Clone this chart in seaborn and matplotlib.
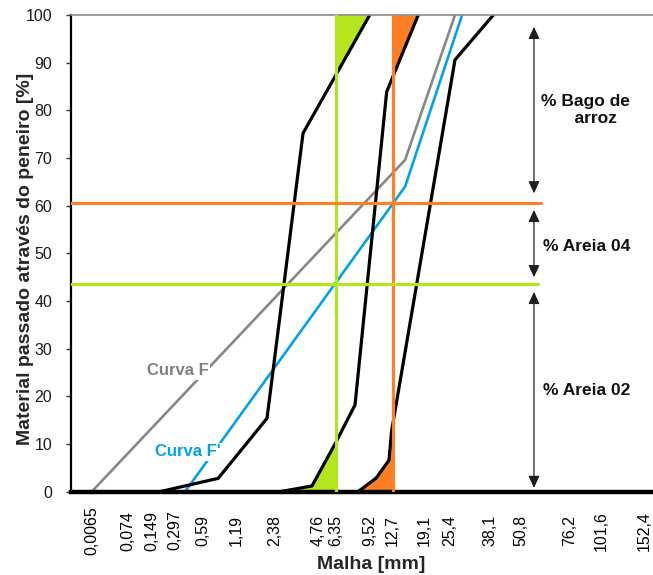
import numpy as np
import pandas as pd
import matplotlib
matplotlib.use("Agg")
import matplotlib.pyplot as plt
import seaborn as sns
from matplotlib.patches import Rectangle
from matplotlib.ticker import NullLocator

sns.set_style("white")
plt.rcParams["font.family"] = ["Liberation Sans", "DejaVu Sans"]

# Peneiros (abertura de malha, mm) e posição de cada um ao longo do eixo
malha_mm = [0.0065, 0.074, 0.149, 0.297, 0.59, 1.19, 2.38, 4.76, 6.35,
            9.52, 12.7, 19.1, 25.4, 38.1, 50.8, 76.2, 101.6, 152.4]
escala_pos = [20.7, 57, 80.7, 104, 132, 165.7, 204, 247, 265,
              298.7, 321.5, 353.7, 378.7, 418.7, 450, 498.7, 530, 573]
malha_labels = [f"{v:g}".replace(".", ",") for v in malha_mm]

# Curvas granulométricas dos materiais (malha em mm, % passado)
areia02_mm = [0.19, 0.81, 2.06, 3.74, 9.52]
areia02_pct = [0, 2.8, 15.4, 75.2, 100]
areia04_mm = [2.58, 4.32, 6.35, 7.98, 11.8, 17.6]
areia04_pct = [0, 1.2, 10.4, 18.2, 83.9, 100]
bago_mm = [8.27, 10.3, 12.15, 12.54, 26.8, 39.4]
bago_pct = [0, 2.8, 6.6, 12.6, 90.6, 100]

# Curvas de referência
curva_f_mm = [0.0065, 14.9, 26.8]
curva_f_pct = [0, 69.6, 100]
curva_f2_mm = [0.38, 14.9, 28.8]
curva_f2_pct = [0, 64.0, 100]

# Malhas de corte e percentagens resultantes
corte_verde_mm = 6.35
corte_laranja_mm = 12.7
nivel_verde = 43.5
nivel_laranja = 60.6

VERDE = "#b5e61d"
LARANJA = "#ff7f27"
AZUL = "#00a2e8"
CINZA = "#878787"

LOG_K = np.log10(malha_mm)
POS_K = np.asarray(escala_pos, float)


def _interp_ext(v, xp, fp):
    v = np.asarray(v, float)
    out = np.interp(v, xp, fp)
    out = np.where(v < xp[0], fp[0] + (v - xp[0]) * (fp[1] - fp[0]) / (xp[1] - xp[0]), out)
    out = np.where(v > xp[-1], fp[-1] + (v - xp[-1]) * (fp[-1] - fp[-2]) / (xp[-1] - xp[-2]), out)
    return out


def escala_fwd(x):
    x = np.asarray(x, float)
    lx = np.log10(np.where(x > 0, x, 1e-12))
    return _interp_ext(lx, LOG_K, POS_K)


def escala_inv(p):
    return 10 ** _interp_ext(p, POS_K, LOG_K)


fig = plt.figure(figsize=(6.53, 5.75), dpi=100)
ax = fig.add_axes([71 / 653, 0.1449, 582 / 653, 0.829])
ax.set_xscale("function", functions=(escala_fwd, escala_inv))
ax.set_xlim(escala_inv(0.0), escala_inv(582.0))
ax.set_ylim(0, 100)

df_mat = pd.concat([
    pd.DataFrame({"malha": areia02_mm, "passado": areia02_pct, "material": "Areia 02"}),
    pd.DataFrame({"malha": areia04_mm, "passado": areia04_pct, "material": "Areia 04"}),
    pd.DataFrame({"malha": bago_mm, "passado": bago_pct, "material": "Bago de arroz"}),
], ignore_index=True)

# Áreas sombreadas junto às malhas de corte
zonas = [
    (areia02_mm, areia02_pct, "topo", corte_verde_mm, VERDE, "dir"),
    (areia04_mm, areia04_pct, "base", corte_verde_mm, VERDE, "esq"),
    (areia04_mm, areia04_pct, "topo", corte_laranja_mm, LARANJA, "dir"),
    (bago_mm, bago_pct, "base", corte_laranja_mm, LARANJA, "esq"),
]
for xs, ys, lado, corte, cor, sentido in zonas:
    if lado == "topo":
        poly = ax.fill_between(xs, ys, 100, color=cor, lw=0, zorder=1)
    else:
        poly = ax.fill_between(xs, 0, ys, color=cor, lw=0, zorder=1)
    if sentido == "dir":
        clip = Rectangle((corte, 0), 1e4, 100, transform=ax.transData)
    else:
        clip = Rectangle((1e-4, 0), corte - 1e-4, 100, transform=ax.transData)
    poly.set_clip_path(clip)

sns.lineplot(x=curva_f_mm, y=curva_f_pct, color=CINZA, lw=1.9, sort=False,
             ax=ax, legend=False, zorder=2)
sns.lineplot(x=curva_f2_mm, y=curva_f2_pct, color=AZUL, lw=1.9, sort=False,
             ax=ax, legend=False, zorder=2)
sns.lineplot(data=df_mat, x="malha", y="passado", units="material",
             estimator=None, color="black", lw=2.3, sort=False,
             ax=ax, legend=False, zorder=2.5)

# Linhas de corte
ax.axvline(corte_verde_mm, color=VERDE, lw=2.3, zorder=3)
ax.axvline(corte_laranja_mm, color=LARANJA, lw=2.3, zorder=3)
ax.axhline(nivel_verde, xmin=0, xmax=0.8024, color=VERDE, lw=2.3, zorder=3)
ax.axhline(nivel_laranja, xmin=0, xmax=0.8076, color=LARANJA, lw=2.3, zorder=3)

# Setas das percentagens de cada material
trans = ax.get_yaxis_transform()
setas = [(97.5, 62.6), (59.1, 45.0), (41.9, 0.8)]
for y_top, y_bot in setas:
    ax.annotate("", xy=(0.7955, y_top), xytext=(0.7955, y_bot), xycoords=trans,
                textcoords=trans,
                arrowprops=dict(arrowstyle="<|-|>,head_length=0.6,head_width=0.28",
                                color="#1e1e1e", lw=0.9, shrinkA=0, shrinkB=0,
                                mutation_scale=12), zorder=4)

txt_kw = dict(transform=trans, ha="center", va="center", fontsize=12.5,
              fontweight="bold", color="#111111", zorder=5)
ax.text(0.884, 80.1, "% Bago de\n    arroz", linespacing=1.15, **txt_kw)
ax.text(0.8857, 51.4, "% Areia 04", **txt_kw)
ax.text(0.8857, 21.3, "% Areia 02", **txt_kw)

ax.text(0.183, 0.2538, "Curva F", transform=ax.transAxes, ha="center", va="center",
        fontsize=12, fontweight="bold", color="#808080", zorder=5,
        bbox=dict(facecolor="white", edgecolor="none", pad=1.0))
ax.text(0.201, 0.0839, "Curva F'", transform=ax.transAxes, ha="center", va="center",
        fontsize=12, fontweight="bold", color=AZUL, zorder=5,
        bbox=dict(facecolor="white", edgecolor="none", pad=1.0))

# Eixos
ax.set_xticks(malha_mm, malha_labels, rotation=90, va="center")
ax.xaxis.set_minor_locator(NullLocator())
ax.tick_params(axis="x", length=0, pad=28, labelsize=11.5, labelcolor="black")
ax.set_yticks(range(0, 101, 10))
ax.tick_params(axis="y", left=True, length=3.5, width=1.0, color="#333333",
               pad=10, labelsize=11.5, labelcolor="#1a1a1a")
for lbl in ax.get_yticklabels():
    lbl.set_family(["Liberation Sans Narrow", "Liberation Sans"])

ax.set_xlabel("Malha [mm]", fontsize=14, fontweight="bold", va="center")
ax.xaxis.set_label_coords(0.5163, -0.1538)
ax.set_ylabel("Material passado através do peneiro [%]", fontsize=14,
              fontweight="bold", va="center")
ax.yaxis.set_label_coords(-0.079, 0.488)

ax.spines["right"].set_visible(False)
ax.spines["top"].set_color("#8a8a8a")
ax.spines["top"].set_linewidth(1.2)
ax.spines["left"].set_color("black")
ax.spines["left"].set_linewidth(1.6)
ax.spines["bottom"].set_color("black")
ax.spines["bottom"].set_linewidth(3.2)
ax.grid(False)

fig.savefig("out.png", dpi=100)
